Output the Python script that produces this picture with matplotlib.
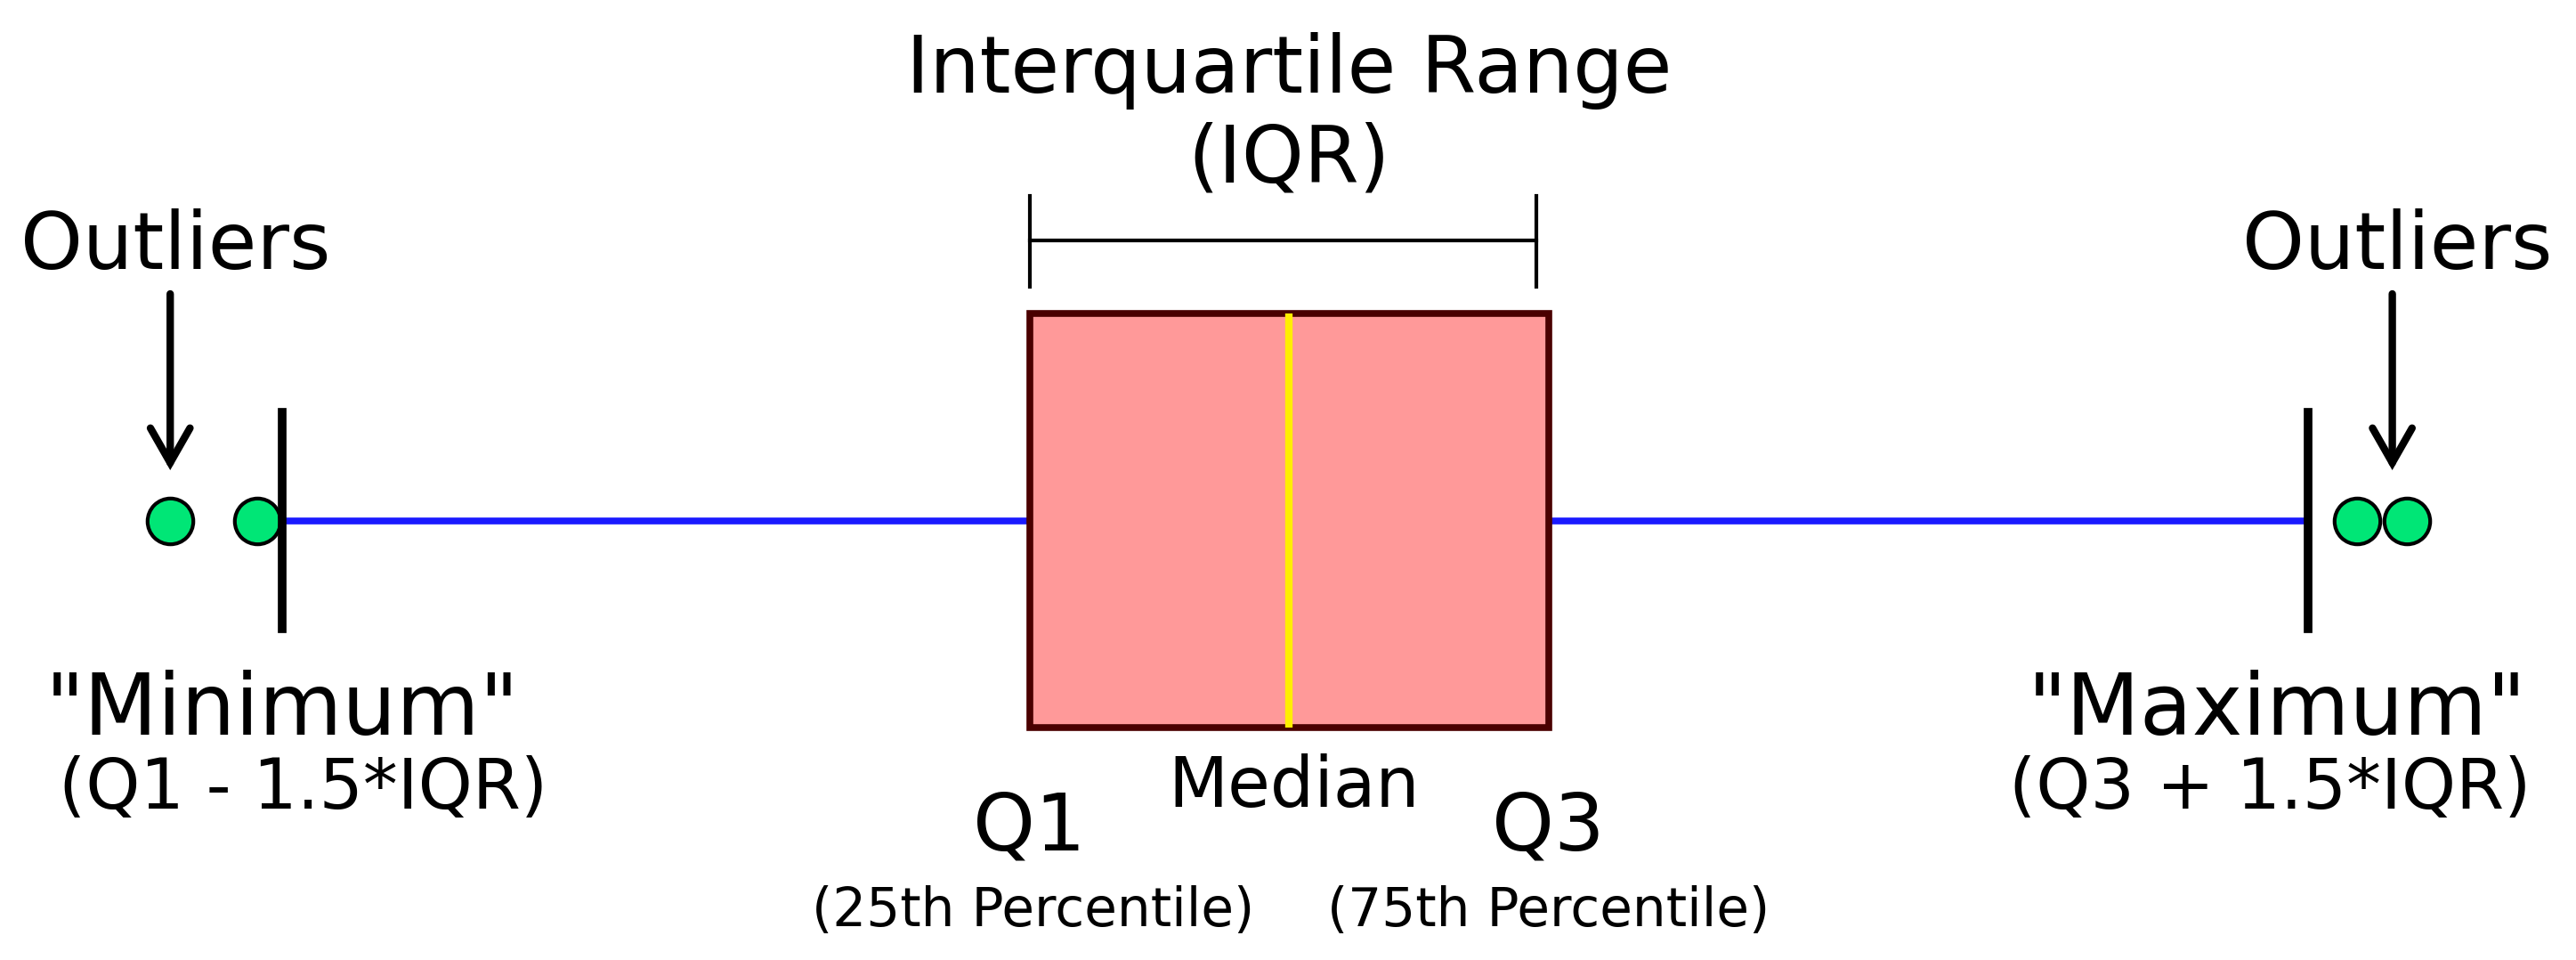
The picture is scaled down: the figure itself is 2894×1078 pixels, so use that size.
import matplotlib
matplotlib.use("Agg")
import matplotlib.pyplot as plt

# box plot statistics (arbitrary units)
q1 = 25.0
median = 50.0
q3 = 75.0
whiskerLow = -47.0
whiskerHigh = 148.2
outliers = [-57.8, -49.4, 152.9, 157.7]

boxStats = [{
    "q1": q1,
    "med": median,
    "q3": q3,
    "whislo": whiskerLow,
    "whishi": whiskerHigh,
    "fliers": outliers,
}]

fig = plt.figure(figsize=(28.94, 10.78), dpi=100)
ax = fig.add_axes([0, 0, 1, 1])
ax.set_xlim(-74.2, 174.0)
ax.set_ylim(1078, 0)
ax.axis("off")

ax.bxp(boxStats, positions=[584.5], widths=465, capwidths=243,
       orientation="horizontal", patch_artist=True, showfliers=True,
       boxprops=dict(facecolor="#ff9999", edgecolor="#4a0000", linewidth=5.5, zorder=2),
       whiskerprops=dict(color="#1a1aff", linewidth=5.5, zorder=1),
       capprops=dict(color="black", linewidth=7, zorder=4),
       medianprops=dict(color="#ffee00", linewidth=6, zorder=3),
       flierprops=dict(marker="o", markersize=37, markerfacecolor="#00e676",
                       markeredgecolor="black", markeredgewidth=3, zorder=3))

# IQR bracket
ax.plot([q1, q3 - 1.2], [270, 270], color="black", linewidth=3)
ax.plot([q1, q1], [220, 322], color="black", linewidth=3)
ax.plot([q3 - 1.2, q3 - 1.2], [220, 322], color="black", linewidth=3)
ax.text(median, 104, "Interquartile Range", fontsize=64, ha="center", va="baseline")
ax.text(median, 205, "(IQR)", fontsize=64, ha="center", va="baseline")

# outlier arrows
arrowX = [outliers[0], 156.3]
for x in arrowX:
    ax.annotate("", xy=(x, 528), xytext=(x, 330),
                arrowprops=dict(arrowstyle="->,head_length=1.4,head_width=0.8",
                                mutation_scale=20, color="black", linewidth=6,
                                shrinkA=0, shrinkB=0, joinstyle="miter"))
    ax.text(x + 0.5, 302, "Outliers", fontsize=64, ha="center", va="baseline")

ax.text(whiskerLow, 825, '"Minimum"', fontsize=69, ha="center", va="baseline")
ax.text(whiskerLow + 2.0, 908, "(Q1 - 1.5*IQR)", fontsize=56, ha="center", va="baseline")
ax.text(whiskerHigh - 3.0, 825, '"Maximum"', fontsize=69, ha="center", va="baseline")
ax.text(whiskerHigh - 3.7, 908, "(Q3 + 1.5*IQR)", fontsize=56, ha="center", va="baseline")

ax.text(q1, 955, "Q1", fontsize=64, ha="center", va="baseline")
ax.text(q3, 955, "Q3", fontsize=64, ha="center", va="baseline")
ax.text(median + 0.5, 906, "Median", fontsize=56, ha="center", va="baseline")
ax.text(q1 + 0.3, 1040, "(25th Percentile)", fontsize=43, ha="center", va="baseline")
ax.text(q3, 1040, "(75th Percentile)", fontsize=43, ha="center", va="baseline")

fig.savefig("out.png", dpi=100)
